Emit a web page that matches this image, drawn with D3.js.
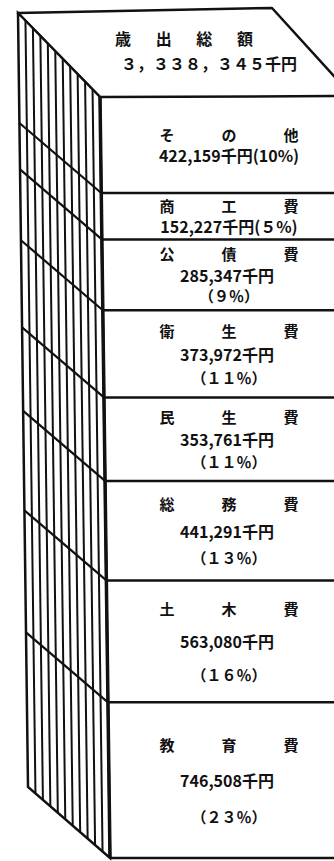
<!DOCTYPE html>
<html>
<head>
<meta charset="utf-8">
<script src="https://cdn.jsdelivr.net/npm/d3@7"></script>
<style>
body { margin: 0; background: #fff; }
#vis { width: 334px; height: 861px; }
text { font-family: 'Noto Sans CJK JP', 'Noto Sans', sans-serif; font-weight: 700; fill: #111; }
</style>
</head>
<body>
<div id="vis"></div>
<script>
// 歳出の内訳（千円）
var categories = ['その他', '商工費', '公債費', '衛生費', '民生費', '総務費', '土木費', '教育費'];
var amounts = [422159, 152227, 285347, 373972, 353761, 441291, 563080, 746508];
var shares = [10, 5, 9, 11, 11, 13, 16, 23];
var titleChars = ['歳', '出', '総', '額'];
var inlineRows = ['その他', '商工費'];

var width = 334;
var height = 861;

var svg = d3.select('#vis')
    .append('svg')
    .attr('width', width)
    .attr('height', height);

var total = d3.sum(amounts);
var fmt = d3.format(',');

function fullWidth(s) {
    return String(s).replace(/[0-9,%()]/g, function(c) {
        return String.fromCharCode(c.charCodeAt(0) + 0xFEE0);
    });
}

// box corners
var backTL = [18, 13], backTR = [272, 8];
var frontTop = 97, frontBottom = 858;
var frontRight = 352;
var backBottomY = 787;

function frontX(y) {
    return 100 + (y - frontTop) * 10 / (frontBottom - frontTop);
}
function backX(y) {
    return 18 + (y - backTL[1]) * 10 / (backBottomY - backTL[1]);
}

// heights in the drawing are not strictly proportional: weight = a + b*value
var weight = d3.scaleLinear()
    .domain([0, 1000000])
    .range([18.35, 201.7]);

var weights = amounts.map(function(v) { return weight(v); });
var cum = [0];
weights.forEach(function(w, i) { cum.push(cum[i] + w); });

var y_scale = d3.scaleLinear()
    .domain([0, cum[cum.length - 1]])
    .range([frontTop, frontBottom]);

var rows = categories.map(function(c, i) {
    return {
        name: c,
        amount: amounts[i],
        share: shares[i],
        y0: y_scale(cum[i]),
        y1: y_scale(cum[i + 1])
    };
});

var line = d3.line();

// top face
svg.append('path')
    .attr('d', line([backTL, backTR, [frontRight, frontTop - 1], [frontX(frontTop), frontTop]]) + 'Z')
    .attr('fill', '#fff')
    .attr('stroke', '#111')
    .attr('stroke-width', 2.5)
    .attr('stroke-linejoin', 'round');

// left face
var lt0 = backTL, lt1 = [frontX(frontTop), frontTop];
var lb0 = [backX(backBottomY), backBottomY], lb1 = [frontX(frontBottom), frontBottom];

svg.append('path')
    .attr('d', line([lt0, lt1, lb1, lb0]) + 'Z')
    .attr('fill', '#fff')
    .attr('stroke', '#111')
    .attr('stroke-width', 2.5);

var hatch = d3.range(1, 11).map(function(i) {
    var t = i / 11;
    return [
        [lt0[0] + (lt1[0] - lt0[0]) * t, lt0[1] + (lt1[1] - lt0[1]) * t],
        [lb0[0] + (lb1[0] - lb0[0]) * t, lb0[1] + (lb1[1] - lb0[1]) * t]
    ];
});

svg.selectAll('.hatch')
    .data(hatch)
    .enter()
    .append('path')
    .attr('class', 'hatch')
    .attr('d', function(d) { return line(d); })
    .attr('stroke', '#111')
    .attr('stroke-width', 2);

// segment boundaries on the side face
var depth = 70;
svg.selectAll('.side-div')
    .data(rows.slice(1))
    .enter()
    .append('path')
    .attr('class', 'side-div')
    .attr('d', function(d) {
        var y = d.y0;
        return line([[frontX(y), y], [backX(y - depth), y - depth]]);
    })
    .attr('stroke', '#111')
    .attr('stroke-width', 2.2);

// segment boundaries on the front face
svg.selectAll('.front-div')
    .data(rows.slice(1))
    .enter()
    .append('path')
    .attr('class', 'front-div')
    .attr('d', function(d) {
        return line([[frontX(d.y0), d.y0], [frontRight, d.y0]]);
    })
    .attr('stroke', '#111')
    .attr('stroke-width', 2.5);

// front bottom + front left edge
svg.append('path')
    .attr('d', line([[frontX(frontBottom), frontBottom], [frontRight, frontBottom]]))
    .attr('stroke', '#111')
    .attr('stroke-width', 2.5);

svg.append('path')
    .attr('d', line([[frontX(frontTop), frontTop], [frontX(frontBottom), frontBottom]]))
    .attr('stroke', '#111')
    .attr('stroke-width', 3.5);

// title on top face
var titleX = d3.scalePoint()
    .domain(d3.range(titleChars.length))
    .range([123, 245]);

svg.selectAll('.title')
    .data(titleChars)
    .enter()
    .append('text')
    .attr('class', 'title')
    .attr('x', function(d, i) { return titleX(i); })
    .attr('y', 38)
    .attr('text-anchor', 'middle')
    .attr('dominant-baseline', 'central')
    .style('font-size', '16px')
    .text(function(d) { return d; });

svg.append('text')
    .attr('x', 209)
    .attr('y', 63)
    .attr('text-anchor', 'middle')
    .attr('dominant-baseline', 'central')
    .style('font-size', '16px')
    .text(fullWidth(fmt(total)) + '千円');

// labels in each segment
var nameX = d3.scalePoint()
    .domain([0, 1, 2])
    .range([167, 291]);

var cx = 229;

rows.forEach(function(r) {
    var g = svg.append('g');
    var mid = (r.y0 + r.y1) / 2;
    var h = r.y1 - r.y0;
    var lines;
    if (inlineRows.indexOf(r.name) >= 0) {
        var pct = r.share < 10 ? '(' + fullWidth(r.share) + '%)' : '(' + r.share + '%)';
        lines = [mid - 11, mid + 10];
        g.append('text')
            .attr('x', cx)
            .attr('y', lines[1])
            .attr('text-anchor', 'middle')
            .attr('dominant-baseline', 'central')
            .style('font-size', '16px')
            .text(fmt(r.amount) + '千円' + pct);
    } else {
        var s = Math.max(21, Math.min(36, h * 0.27));
        lines = [mid - s, mid, mid + s];
        g.append('text')
            .attr('x', cx - 2)
            .attr('y', lines[1])
            .attr('text-anchor', 'middle')
            .attr('dominant-baseline', 'central')
            .style('font-size', '16px')
            .text(fmt(r.amount) + '千円');
        g.append('text')
            .attr('x', cx)
            .attr('y', lines[2])
            .attr('text-anchor', 'middle')
            .attr('dominant-baseline', 'central')
            .style('font-size', '15px')
            .text('（' + fullWidth(r.share) + '％）');
    }
    g.selectAll('.nm')
        .data(r.name.split(''))
        .enter()
        .append('text')
        .attr('class', 'nm')
        .attr('x', function(d, i) { return nameX(i); })
        .attr('y', lines[0])
        .attr('text-anchor', 'middle')
        .attr('dominant-baseline', 'central')
        .style('font-size', '15px')
        .text(function(d) { return d; });
});
</script>
</body>
</html>
